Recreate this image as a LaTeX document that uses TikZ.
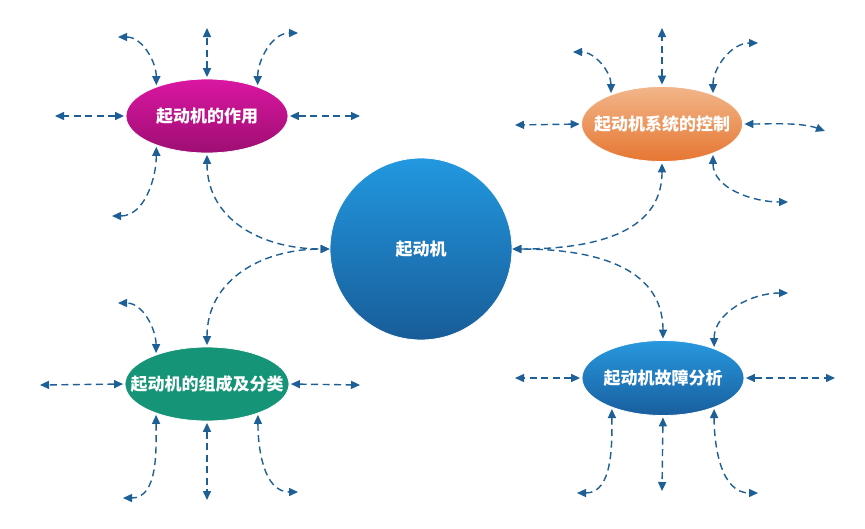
\documentclass[tikz,border=0pt]{standalone}
\usepackage{fontspec}
\newfontfamily\cjk{Noto Sans CJK SC}
\usetikzlibrary{arrows.meta,shapes.geometric}
\definecolor{arrowblue}{RGB}{30,95,150}
\definecolor{magtop}{RGB}{218,22,162}
\definecolor{magbot}{RGB}{158,14,114}
\definecolor{ortop}{RGB}{242,182,138}
\definecolor{orbot}{RGB}{230,118,50}
\definecolor{tealc}{RGB}{22,148,120}
\definecolor{bltop}{RGB}{40,152,222}
\definecolor{blbot}{RGB}{24,94,158}
\definecolor{cirtop}{RGB}{34,152,224}
\definecolor{cirbot}{RGB}{24,92,152}
\tikzset{
  lbl/.style={text=white, font=\cjk\bfseries\fontsize{17}{19}\selectfont},
  topic/.style={ellipse, minimum width=162pt, minimum height=74pt, inner sep=0pt,
    draw=white, line width=0.8pt},
  conn/.style={draw=arrowblue, line width=1.4pt, dash pattern=on 7pt off 4.5pt,
    {Triangle[length=9pt,width=8pt]}-{Triangle[length=9pt,width=8pt]},
    shorten <=1.5pt},
}
\begin{document}
\begin{tikzpicture}[x=1pt,y=-1pt]
\useasboundingbox (0,0) rectangle (865,528);
\fill[white] (0,0) rectangle (865,528);

% central circle
\node[circle, minimum size=182pt, inner sep=0pt, draw=white, line width=0.8pt,
  top color=cirtop, bottom color=cirbot, lbl] (C) at (421,249) {起动机};

% topics
\node[topic, top color=magtop, bottom color=magbot,
  label={[lbl]center:起动机的作用}] (TL) at (207,116) {};
\node[topic, minimum width=161pt, minimum height=75pt, top color=ortop, bottom color=orbot,
  label={[lbl]center:起动机系统的控制}] (TR) at (662,124) {};
\node[topic, minimum width=164pt, fill=tealc,
  label={[lbl]center:起动机的组成及分类}] (BL) at (207,384) {};
\node[topic, minimum height=75pt, top color=bltop, bottom color=blbot,
  label={[lbl]center:起动机故障分析}] (BR) at (663,378) {};

% free ends
\coordinate (tl1) at (55,116);
\coordinate (tl2) at (360,116);
\coordinate (tl3) at (207,28);
\coordinate (tl4) at (118,37);
\coordinate (tl5) at (298,33);
\coordinate (tl6) at (112,216);

\coordinate (tr1) at (515,125);
\coordinate (tr2) at (825,131);
\coordinate (tr3) at (662,28);
\coordinate (tr4) at (573,52);
\coordinate (tr5) at (758,43);
\coordinate (tr6) at (788,202);

\coordinate (bl1) at (40,385);
\coordinate (bl2) at (360,385);
\coordinate (bl3) at (118,303);
\coordinate (bl5) at (123,498);
\coordinate (bl6) at (207,500);
\coordinate (bl7) at (298,492);

\coordinate (br1) at (515,378);
\coordinate (br2) at (835,378);
\coordinate (br3) at (788,293);
\coordinate (br5) at (577,493);
\coordinate (br6) at (662,491);
\coordinate (br7) at (758,493);

% centre links
\draw[conn] (TL.270) to[out=270,in=180,looseness=1.1] (C.180);
\draw[conn] (BL.90) to[out=90,in=180,looseness=1.1] (C.180);
\draw[conn] (TR.270) to[out=270,in=0,looseness=1.1] (C.0);
\draw[conn] (BR.90) to[out=90,in=0,looseness=1.1] (C.0);

% TL
\draw[conn] (TL.180) -- (tl1);
\draw[conn] (TL.0) -- (tl2);
\draw[conn] (TL.90) -- (tl3);
\draw[conn] (TL.150) to[out=90,in=0] (tl4);
\draw[conn] (TL.30) to[out=90,in=180] (tl5);
\draw[conn] (TL.210) to[out=270,in=0] (tl6);

% TR
\draw[conn] (TR.180) -- (tr1);
\draw[conn] (TR.0) to[out=0,in=160,looseness=0.8] (tr2);
\draw[conn] (TR.90) -- (tr3);
\draw[conn] (TR.150) to[out=90,in=0] (tr4);
\draw[conn] (TR.30) to[out=90,in=180] (tr5);
\draw[conn] (TR.330) to[out=270,in=180] (tr6);

% BL
\draw[conn] (BL.180) -- (bl1);
\draw[conn] (BL.0) -- (bl2);
\draw[conn] (BL.150) to[out=90,in=0] (bl3);
\draw[conn] (BL.210) to[out=270,in=0] (bl5);
\draw[conn] (BL.270) -- (bl6);
\draw[conn] (BL.330) to[out=270,in=180] (bl7);

% BR
\draw[conn] (BR.180) -- (br1);
\draw[conn] (BR.0) -- (br2);
\draw[conn] (BR.30) to[out=90,in=180] (br3);
\draw[conn] (BR.210) to[out=270,in=0] (br5);
\draw[conn] (BR.270) -- (br6);
\draw[conn] (BR.330) to[out=270,in=180] (br7);
\end{tikzpicture}
\end{document}
